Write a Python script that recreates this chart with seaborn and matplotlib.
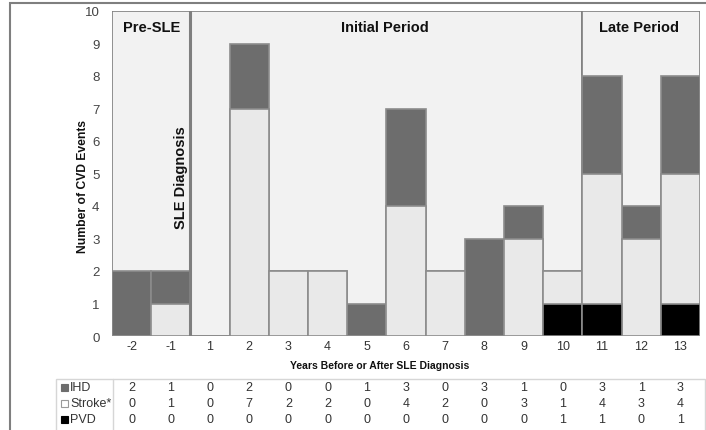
import pandas as pd
import matplotlib.pyplot as plt
import matplotlib.transforms as mtransforms
from matplotlib.patches import Rectangle
import seaborn as sns

years = ["-2", "-1", "1", "2", "3", "4", "5", "6", "7", "8", "9", "10", "11", "12", "13"]
ihd = [2, 1, 0, 2, 0, 0, 1, 3, 0, 3, 1, 0, 3, 1, 3]
stroke = [0, 1, 0, 7, 2, 2, 0, 4, 2, 0, 3, 1, 4, 3, 4]
pvd = [0, 0, 0, 0, 0, 0, 0, 0, 0, 0, 0, 1, 1, 0, 1]

# periods as (label, first index, last index)
periods = [("Pre-SLE", 0, 1), ("Initial Period", 2, 11), ("Late Period", 12, 14)]

sns.set_style("white")
plt.rcParams["font.family"] = ["Liberation Sans", "DejaVu Sans"]

df = pd.DataFrame({"Year": years, "IHD": ihd, "Stroke": stroke, "PVD": pvd})
df["total"] = df["IHD"] + df["Stroke"] + df["PVD"]
df["lower"] = df["Stroke"] + df["PVD"]

W, H = 706, 431
fig = plt.figure(figsize=(W / 100, H / 100), dpi=100)
ax = fig.add_axes([112 / W, 1 - 337 / H, 588 / W, 325 / H])
ax.set_facecolor("none")

c_ihd = "#6d6d6d"
c_stroke = "#e9e9e9"
c_pvd = "#000000"
c_edge = "#8c8c8c"

# background period boxes
for label, i0, i1 in periods:
    ax.add_patch(Rectangle((i0 - 0.5, 0), i1 - i0 + 1, 10, facecolor="#f2f2f2",
                           edgecolor="#7f7f7f", lw=1.2, zorder=0.5))

# stacked bars (draw cumulative heights, top layer first)
sns.barplot(data=df, x="Year", y="total", order=years, color=c_ihd, width=1.0,
            edgecolor=c_edge, linewidth=1.2, saturation=1, ax=ax, zorder=2)
sns.barplot(data=df, x="Year", y="lower", order=years, color=c_stroke, width=1.0,
            edgecolor=c_edge, linewidth=1.2, saturation=1, ax=ax, zorder=2)
sns.barplot(data=df[df["PVD"] > 0], x="Year", y="PVD", order=years, color=c_pvd, width=1.0,
            edgecolor=c_edge, linewidth=1.2, saturation=1, ax=ax, zorder=2)

# SLE diagnosis line
ax.axvline(1.5, ymin=0, ymax=1, color="#7f7f7f", lw=2.2, zorder=3)
ax.text(1.26, 4.9, "SLE Diagnosis", rotation=90, ha="center", va="center",
        fontsize=10.5, fontweight="bold", color="#111111", zorder=4)

ax.text(0.5, 9.5, "Pre-SLE", ha="center", va="center", fontsize=10.5,
        fontweight="bold", color="#111111", zorder=4)
ax.text(6.45, 9.5, "Initial Period", ha="center", va="center", fontsize=10.5,
        fontweight="bold", color="#111111", zorder=4)
ax.text(12.95, 9.5, "Late Period", ha="center", va="center", fontsize=10.5,
        fontweight="bold", color="#111111", zorder=4)

ax.set_xlim(-0.5, 14.5)
ax.set_ylim(0, 10)
ax.set_yticks(range(0, 11))
ax.tick_params(axis="y", length=0, pad=9, labelsize=9.5, labelcolor="#444444")
ax.tick_params(axis="x", length=0, pad=3, labelsize=9, labelcolor="#333333")
ax.set_xlabel("")
ax.set_ylabel("")
for s in ax.spines.values():
    s.set_visible(False)

fig.text(83 / W, 1 - 187 / H, "Number of CVD Events", rotation=90, ha="center",
         va="center", fontsize=8.7, fontweight="bold", color="#111111")
fig.text(380 / W, 1 - 366 / H, "Years Before or After SLE Diagnosis", ha="center",
         va="center", fontsize=7.5, fontweight="bold", color="#111111")

# data table under the chart
fig.patches.append(Rectangle((56 / W, -0.05), 649 / W, 0.05 + (1 - 380 / H),
                             transform=fig.transFigure, facecolor="none",
                             edgecolor="#d6d6d6", lw=1))
fig.lines.append(plt.Line2D([113 / W, 113 / W], [0, 1 - 380 / H],
                            transform=fig.transFigure, color="#d6d6d6", lw=1))
trans = mtransforms.blended_transform_factory(ax.transData, fig.transFigure)
rows = [("IHD", ihd, c_ihd, c_ihd, 388), ("Stroke*", stroke, "white", "#9a9a9a", 404),
        ("PVD", pvd, c_pvd, c_pvd, 420)]
for name, vals, fc, ec, ypx in rows:
    yf = 1 - ypx / H
    fig.patches.append(Rectangle((61 / W, yf - 3.5 / H), 7 / W, 7 / H,
                                 transform=fig.transFigure, facecolor=fc,
                                 edgecolor=ec, lw=0.8))
    fig.text(70 / W, yf, name, ha="left", va="center", fontsize=9, color="#333333")
    for i, v in enumerate(vals):
        ax.text(i, yf, str(v), transform=trans, ha="center", va="center",
                fontsize=9, color="#333333", clip_on=False)

# outer chart frame
fig.patches.append(Rectangle((10 / W, -0.05), 1.0, 0.05 + (1 - 4 / H),
                             transform=fig.transFigure, facecolor="none",
                             edgecolor="#7f7f7f", lw=1.5))

fig.savefig("out.png", dpi=100)
